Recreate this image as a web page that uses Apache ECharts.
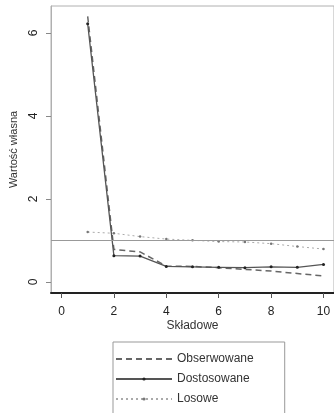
<!DOCTYPE html>
<html>
<head>
<meta charset="utf-8">
<script src="https://cdn.jsdelivr.net/npm/echarts@6/dist/echarts.min.js"></script>
<style>
  html, body { margin: 0; padding: 0; background: #fff; }
  #chart { width: 334px; height: 413px; }
</style>
</head>
<body>
<div id="chart"></div>
<script>
    var skladowe = [1, 2, 3, 4, 5, 6, 7, 8, 9, 10];
    var obserwowane = [6.4, 0.78, 0.72, 0.38, 0.37, 0.34, 0.3, 0.26, 0.2, 0.14];
    var dostosowane = [6.22, 0.63, 0.62, 0.37, 0.36, 0.35, 0.34, 0.36, 0.35, 0.42];
    var losowe = [1.2, 1.17, 1.09, 1.03, 1.0, 0.97, 0.96, 0.92, 0.85, 0.79];
    var xTicks = [0, 2, 4, 6, 8, 10];
    var yTicks = [0, 2, 4, 6];

    function pairs(vals) {
        return skladowe.map(function (x, i) { return [x, vals[i]]; });
    }

    var font = 'Liberation Sans, Arial, sans-serif';
    var chart = echarts.init(document.getElementById('chart'));

    chart.setOption({
        animation: false,
        textStyle: { fontFamily: font },
        grid: {
            left: 51, top: 6, right: -4, bottom: 120,
            show: true, borderColor: '#b0b0b0', borderWidth: 1
        },
        xAxis: {
            type: 'value',
            min: -0.4, max: 10.4,
            name: 'Składowe',
            nameLocation: 'middle',
            nameGap: 27,
            nameMoveOverlap: false,
            nameTextStyle: { color: '#333', fontSize: 12, fontFamily: font },
            axisLine: { show: true, onZero: false, lineStyle: { color: '#222', width: 2 } },
            axisTick: { show: true, length: 5, customValues: xTicks, lineStyle: { color: '#555' } },
            axisLabel: { customValues: xTicks, margin: 13, color: '#222', fontSize: 12, fontFamily: font },
            splitLine: { show: false }
        },
        yAxis: {
            type: 'value',
            min: -0.27, max: 6.65,
            name: 'Wartość własna',
            nameLocation: 'middle',
            nameGap: 32,
            nameTextStyle: { color: '#333', fontSize: 11, fontFamily: font },
            axisLine: { show: true, onZero: false, lineStyle: { color: '#b0b0b0', width: 1 } },
            axisTick: { show: true, length: 5, customValues: yTicks, lineStyle: { color: '#888' } },
            axisLabel: { customValues: yTicks, rotate: 90, margin: 11, color: '#222', fontSize: 12, fontFamily: font },
            splitLine: { show: false }
        },
        legend: {
            orient: 'vertical',
            left: 113, top: 342,
            height: 120,
            padding: [11, 31, 12, 2],
            itemGap: 8,
            itemWidth: 56, itemHeight: 4,
            borderColor: '#999', borderWidth: 1,
            textStyle: { color: '#333', fontSize: 12, fontFamily: font },
            data: [
                { name: 'Obserwowane', itemStyle: { opacity: 0 } },
                { name: 'Dostosowane' },
                { name: 'Losowe' }
            ]
        },
        series: [
            {
                name: 'Obserwowane',
                type: 'line',
                data: pairs(obserwowane),
                symbol: 'none',
                lineStyle: { color: '#666', width: 1.5, type: [6, 4] },
                itemStyle: { color: '#666' },
                z: 3
            },
            {
                name: 'Dostosowane',
                type: 'line',
                data: pairs(dostosowane),
                symbol: 'circle', symbolSize: 3,
                lineStyle: { color: '#555', width: 1.3 },
                itemStyle: { color: '#222' },
                z: 4,
                markLine: {
                    silent: true, symbol: 'none', label: { show: false },
                    lineStyle: { color: '#999', width: 1, type: 'solid' },
                    data: [{ yAxis: 1 }]
                }
            },
            {
                name: 'Losowe',
                type: 'line',
                data: pairs(losowe),
                symbol: 'circle', symbolSize: 2.5,
                lineStyle: { color: '#aaa', width: 1, type: [2, 3] },
                itemStyle: { color: '#777' },
                z: 2
            }
        ]
    });
</script>
</body>
</html>
